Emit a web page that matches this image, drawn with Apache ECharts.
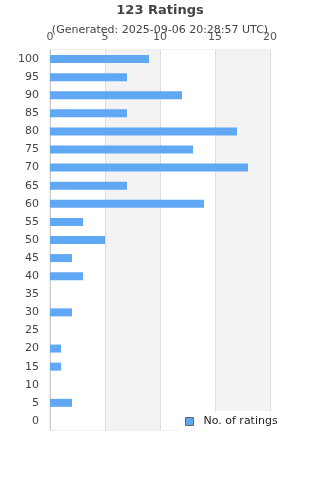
<!DOCTYPE html>
<html>
<head>
<meta charset="utf-8">
<script src="https://cdn.jsdelivr.net/npm/echarts@6/dist/echarts.min.js"></script>
<style>
  html, body { margin: 0; padding: 0; background: #fff; }
  #chart { width: 320px; height: 480px; }
</style>
</head>
<body>
<div id="chart"></div>
<script>
// Ratings histogram: score buckets (top to bottom) and counts
const ratings = ['100', '95', '90', '85', '80', '75', '70', '65', '60', '55', '50',
                 '45', '40', '35', '30', '25', '20', '15', '10', '5', '0'];
const counts = [9, 7, 12, 7, 17, 13, 18, 7, 14, 3, 5, 2, 3, 0, 2, 0, 1, 1, 0, 2, 0];
const xTicks = [0, 5, 10, 15, 20];

const FONT = 'DejaVu Sans';
const BAR = '#61a8f4';

const chart = echarts.init(document.getElementById('chart'), null, { renderer: 'canvas' });
chart.setOption({
  animation: false,
  title: {
    text: '123 Ratings',
    subtext: '(Generated: 2025-09-06 20:28:57 UTC)',
    left: 'center', top: -1, itemGap: 8,
    textStyle: { fontFamily: FONT, fontSize: 13, fontWeight: 'bold', color: '#444' },
    subtextStyle: { fontFamily: FONT, fontSize: 11, color: '#444' },
  },
  legend: {
    data: ['No. of ratings'],
    left: 178, top: 411,
    padding: [5, 40, 6, 7],
    backgroundColor: '#fff',
    itemWidth: 8, itemHeight: 8, itemGap: 10,
    icon: 'rect',
    itemStyle: { borderColor: '#666', borderWidth: 1 },
    textStyle: { fontFamily: FONT, fontSize: 11, color: '#222', padding: [0, 0, 0, 5] },
    z: 10,
  },
  grid: {
    left: 50, right: 50, top: 50, bottom: 50,
    show: true, borderColor: '#ddd', borderWidth: 1,
  },
  xAxis: {
    type: 'value', position: 'top',
    min: xTicks[0], max: xTicks[xTicks.length - 1], interval: 5,
    axisLine: { show: false },
    axisTick: { show: false },
    axisLabel: { fontFamily: FONT, fontSize: 11, color: '#555', margin: 7 },
    splitLine: { lineStyle: { color: '#ddd' } },
    splitArea: { show: true, areaStyle: { color: ['#fff', '#f3f3f3'] } },
  },
  yAxis: {
    type: 'category', inverse: true,
    data: ratings,
    axisLine: { lineStyle: { color: '#ccc' } },
    axisTick: { show: false },
    axisLabel: { fontFamily: FONT, fontSize: 11, color: '#444', margin: 11 },
  },
  series: [{
    name: 'No. of ratings',
    type: 'bar',
    data: counts,
    barWidth: 8,
    itemStyle: { color: BAR },
  }],
});
</script>
</body>
</html>
